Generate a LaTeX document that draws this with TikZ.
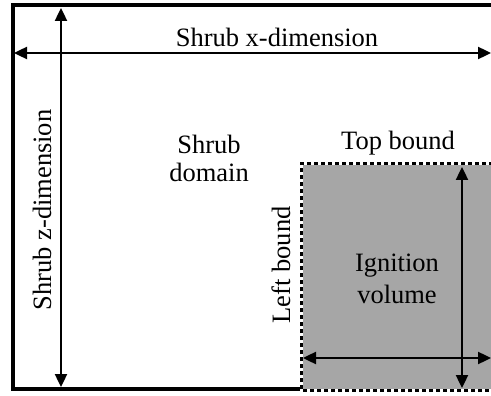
\documentclass[tikz,border=0pt]{standalone}
\usepackage{fontspec}
\setmainfont{Liberation Serif}
\usetikzlibrary{arrows.meta}
\definecolor{ignfill}{RGB}{166,166,166}
\begin{document}
\begin{tikzpicture}[x=1pt,y=-1pt,
  dimline/.style={line width=2.4pt,
    {Triangle[length=13pt,width=12pt]}-{Triangle[length=13pt,width=12pt]}},
  lbl/.style={font=\fontsize{26.5}{29}\selectfont, inner sep=0pt, align=center},
  rim/.style={line width=3pt}]
\useasboundingbox (0,0) rectangle (491,396);
\clip (0,0) rectangle (491,396);

% ignition volume
\fill[ignfill] (301,164) rectangle (510,390);
\draw[rim, white] (510,390) -- (301,390) -- (301,164) -- (510,164);
\draw[rim, black, dash pattern=on 4pt off 3pt] (510,390) -- (301,390) -- (301,164) -- (510,164);

% shrub domain border
\draw[line width=4pt, line join=miter] (299.5,389) -- (12.5,389) -- (12.5,5) -- (510,5);

% arrow end points
\coordinate (xl) at (14,53);
\coordinate (xr) at (491,53);
\coordinate (zt) at (61,8);
\coordinate (zb) at (61,387);
\coordinate (il) at (303,358);
\coordinate (ir) at (491,358);
\coordinate (it) at (462,167);
\coordinate (ib) at (462,388);

\draw[dimline] (xl) -- (xr);
\draw[dimline] (zt) -- (zb);
\draw[dimline] (il) -- (ir);
\draw[dimline] (it) -- (ib);

% labels
\node[lbl] (xdim) at (277,37) {Shrub x-dimension};
\node[lbl, rotate=90] (zdim) at (42,210) {Shrub z-dimension};
\node[lbl, font=\fontsize{26.5}{28}\selectfont] (dom) at (209,158) {Shrub\\domain};
\node[lbl] (top) at (398,143) {Top bound};
\node[lbl, rotate=90] (left) at (281,265) {Left bound};
\node[lbl, font=\fontsize{26.5}{32}\selectfont] (ign) at (397,279) {Ignition\\volume};
\end{tikzpicture}
\end{document}
